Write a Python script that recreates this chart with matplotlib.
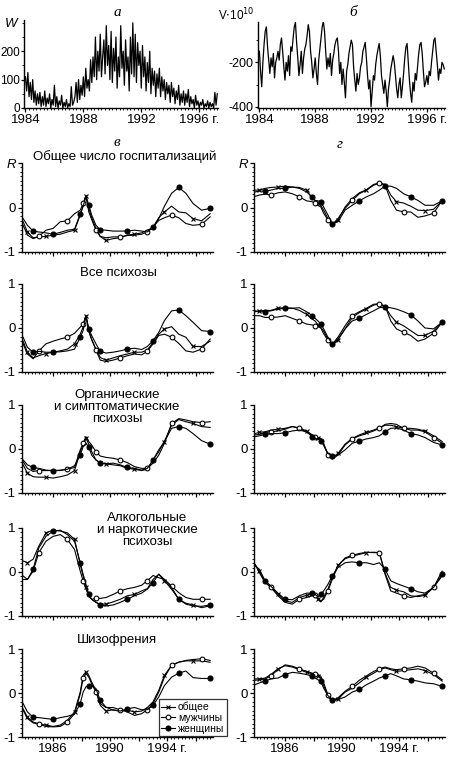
import matplotlib
matplotlib.use("Agg")
import matplotlib.pyplot as plt
from matplotlib.ticker import MultipleLocator
from matplotlib.lines import Line2D
import numpy as np

plt.rcParams['font.family'] = ['Liberation Sans', 'DejaVu Sans']
plt.rcParams['font.size'] = 9.5
plt.rcParams['axes.unicode_minus'] = False

# ---- top panels: monthly values, from Jan 1984 ----
w_monthly = [110, 60, 125, 40, 90, 30, 100, 20, 60, 10, 50, 15,
             55, 5, 40, 10, 60, 5, 35, 15, 50, 0, 30, 10,
             80, 5, 40, 0, 25, 10, 45, 0, 20, 5, 30, 0,
             15, 5, 75, 10, 20, 40, 90, 20, 100, 30, 80, 45,
             110, 40, 140, 70, 100, 60, 170, 90, 180, 110, 250, 100,
             200, 130, 260, 110, 180, 240, 120, 290, 150, 220, 100, 270,
             90, 210, 130, 250, 70, 180, 110, 290, 140, 200, 80, 240,
             130, 180, 60, 250, 120, 300, 110, 260, 90, 230, 150, 200,
             70, 220, 110, 180, 60, 160, 90, 200, 50, 140, 80, 130,
             40, 120, 70, 140, 40, 110, 60, 100, 30, 90, 50, 80,
             20, 90, 40, 70, 15, 60, 30, 80, 10, 50, 20, 60,
             10, 50, 20, 65, 5, 40, 15, 30, 0, 45, 10, 25,
             0, 20, 10, 30, 0, 15, 5, 25, 0, 20, 5, 15,
             0, 55, 10, 50]

v_monthly = [-150, -240, -310, -200, -120, -60, -40, -130, -190, -250, -180, -220,
             -160, -270, -200, -180, -150, -190, -120, -90, -150, -220, -280, -200,
             -240, -170, -260, -130, -150, -90, -40, -20, -110, -180, -260, -210,
             -150, -250, -180, -140, -120, -80, -30, -60, -150, -200, -270, -230,
             -180, -250, -300, -190, -140, -90, -40, -15, -60, -150, -230, -180,
             -220, -160, -260, -190, -160, -120, -100, -90, -150, -250, -200, -300,
             -230, -290, -360, -240, -210, -160, -130, -100, -120, -220, -280, -330,
             -250, -300, -270, -220, -200, -150, -130, -110, -180, -260, -320, -280,
             -400, -330, -260, -280, -210, -170, -140, -115, -170, -260, -300, -340,
             -280, -330, -400, -320, -280, -230, -200, -170, -200, -260, -320, -360,
             -300, -270, -360, -310, -250, -180, -130, -115, -200, -280, -340, -380,
             -290, -330, -250, -280, -220, -160, -120, -110, -160, -240, -310, -290,
             -260, -300, -240, -260, -200, -150, -100, -90, -150, -210, -280, -230,
             -250, -200, -210, -230]

# ---- correlation panels ----
years = [1983.9, 1984.2, 1984.6, 1985.0, 1985.5, 1986.0, 1986.5, 1987.0, 1987.5, 1987.9,
         1988.1, 1988.3, 1988.5, 1988.7, 1989.0, 1989.3, 1989.7, 1990.2, 1990.7, 1991.2,
         1991.7, 1992.2, 1992.6, 1993.0, 1993.4, 1993.8, 1994.3, 1994.8, 1995.3, 1995.8,
         1996.4, 1997.0]

row_titles = ["Общее число госпитализаций", "Все психозы",
              "Органические\nи симптоматические\nпсихозы",
              "Алкогольные\nи наркотические\nпсихозы", "Шизофрения"]
legend_labels = ["общее", "мужчины", "женщины"]

# column "в"
hosp_total_v = [-0.32, -0.55, -0.68, -0.66, -0.65, -0.62, -0.6, -0.55, -0.51, -0.17, 0.05, 0.26, -0.02, -0.23, -0.47, -0.65, -0.74, -0.7, -0.68, -0.62, -0.6, -0.57, -0.51, -0.45, -0.23, -0.1, 0.03, -0.1, -0.12, -0.25, -0.3, -0.14]
hosp_men_v = [-0.4, -0.62, -0.7, -0.65, -0.51, -0.47, -0.32, -0.3, -0.14, -0.06, 0.09, 0.26, -0.1, -0.27, -0.51, -0.65, -0.68, -0.66, -0.66, -0.63, -0.62, -0.6, -0.55, -0.44, -0.29, -0.23, -0.17, -0.23, -0.36, -0.4, -0.38, -0.21]
hosp_women_v = [-0.25, -0.4, -0.53, -0.55, -0.57, -0.6, -0.56, -0.51, -0.49, -0.14, 0.02, 0.26, 0.05, -0.17, -0.4, -0.5, -0.51, -0.53, -0.53, -0.53, -0.51, -0.53, -0.55, -0.44, -0.25, 0.03, 0.32, 0.45, 0.32, 0.09, -0.06, -0.02]

allpsy_total_v = [-0.3, -0.55, -0.68, -0.63, -0.58, -0.55, -0.52, -0.48, -0.36, -0.14, 0.02, 0.28, -0.08, -0.27, -0.48, -0.67, -0.73, -0.68, -0.63, -0.59, -0.55, -0.55, -0.5, -0.33, -0.14, -0.02, 0.03, -0.14, -0.21, -0.42, -0.42, -0.3]
allpsy_men_v = [-0.36, -0.59, -0.7, -0.52, -0.36, -0.3, -0.25, -0.21, -0.12, 0.02, 0.09, 0.28, -0.06, -0.25, -0.5, -0.73, -0.76, -0.73, -0.68, -0.63, -0.59, -0.61, -0.53, -0.36, -0.17, -0.14, -0.21, -0.35, -0.52, -0.55, -0.48, -0.25]
allpsy_women_v = [-0.21, -0.44, -0.55, -0.53, -0.55, -0.55, -0.54, -0.52, -0.48, -0.21, -0.06, 0.28, -0.02, -0.17, -0.36, -0.53, -0.57, -0.55, -0.52, -0.48, -0.46, -0.49, -0.42, -0.29, -0.1, 0.17, 0.39, 0.41, 0.28, 0.13, -0.06, -0.08]

organic_total_v = [-0.36, -0.55, -0.63, -0.64, -0.64, -0.66, -0.63, -0.59, -0.49, -0.06, 0.09, 0.24, 0.11, -0.06, -0.25, -0.32, -0.34, -0.36, -0.38, -0.44, -0.46, -0.49, -0.46, -0.25, -0.06, 0.17, 0.54, 0.67, 0.62, 0.58, 0.51, 0.49]
organic_men_v = [-0.29, -0.44, -0.51, -0.49, -0.49, -0.49, -0.48, -0.46, -0.42, -0.02, 0.13, 0.28, 0.17, 0.09, -0.06, -0.16, -0.19, -0.21, -0.25, -0.31, -0.4, -0.44, -0.44, -0.32, -0.14, 0.13, 0.58, 0.69, 0.66, 0.62, 0.6, 0.62]
organic_women_v = [-0.25, -0.36, -0.42, -0.44, -0.48, -0.49, -0.49, -0.46, -0.38, -0.14, 0.05, 0.13, 0.05, -0.14, -0.25, -0.31, -0.34, -0.32, -0.36, -0.42, -0.44, -0.48, -0.44, -0.25, -0.02, 0.17, 0.47, 0.51, 0.47, 0.35, 0.19, 0.11]

alco_total_v = [0.25, 0.21, 0.29, 0.59, 0.89, 0.95, 0.93, 0.89, 0.74, 0.17, -0.09, -0.33, -0.54, -0.62, -0.69, -0.73, -0.73, -0.68, -0.62, -0.54, -0.51, -0.43, -0.38, -0.17, -0.05, -0.2, -0.39, -0.62, -0.71, -0.75, -0.81, -0.77]
alco_men_v = [-0.09, -0.17, 0.02, 0.44, 0.7, 0.81, 0.85, 0.74, 0.51, 0.02, -0.2, -0.39, -0.54, -0.62, -0.6, -0.6, -0.58, -0.51, -0.43, -0.38, -0.35, -0.3, -0.2, -0.08, -0.13, -0.17, -0.32, -0.47, -0.58, -0.62, -0.62, -0.62]
alco_women_v = [-0.17, -0.17, 0.06, 0.55, 0.81, 0.93, 0.95, 0.85, 0.7, 0.21, -0.05, -0.28, -0.51, -0.62, -0.69, -0.75, -0.77, -0.75, -0.69, -0.62, -0.54, -0.48, -0.39, -0.24, -0.05, -0.17, -0.35, -0.62, -0.73, -0.77, -0.78, -0.75]

schizo_total_v = [-0.36, -0.55, -0.66, -0.7, -0.73, -0.76, -0.73, -0.62, -0.43, 0.02, 0.4, 0.48, 0.4, 0.25, 0.06, -0.28, -0.41, -0.38, -0.41, -0.39, -0.43, -0.41, -0.33, -0.2, 0.06, 0.4, 0.63, 0.7, 0.73, 0.73, 0.73, 0.7]
schizo_men_v = [-0.39, -0.58, -0.68, -0.71, -0.76, -0.77, -0.76, -0.66, -0.47, -0.02, 0.33, 0.44, 0.36, 0.21, 0.02, -0.24, -0.33, -0.33, -0.38, -0.43, -0.51, -0.47, -0.38, -0.24, 0.02, 0.36, 0.63, 0.7, 0.74, 0.76, 0.78, 0.74]
schizo_women_v = [-0.24, -0.43, -0.55, -0.56, -0.58, -0.6, -0.56, -0.53, -0.48, -0.24, 0.02, 0.14, 0.17, 0.17, 0.1, -0.17, -0.32, -0.39, -0.41, -0.36, -0.33, -0.38, -0.38, -0.28, -0.09, 0.17, 0.36, 0.45, 0.5, 0.35, 0.33, 0.33]

# column "г"
hosp_total_g = [0.39, 0.39, 0.43, 0.45, 0.46, 0.48, 0.46, 0.45, 0.39, 0.2, 0.16, 0.1, 0.05, -0.06, -0.25, -0.4, -0.28, 0.01, 0.2, 0.33, 0.4, 0.52, 0.55, 0.52, 0.28, 0.13, 0.1, 0.03, -0.06, -0.07, -0.04, 0.15]
hosp_men_g = [0.25, 0.28, 0.3, 0.28, 0.33, 0.35, 0.31, 0.24, 0.15, 0.13, 0.09, 0.05, 0.01, -0.13, -0.28, -0.38, -0.25, -0.02, 0.16, 0.31, 0.39, 0.5, 0.55, 0.5, 0.16, -0.06, -0.1, -0.1, -0.22, -0.19, -0.13, 0.16]
hosp_women_g = [0.35, 0.37, 0.37, 0.39, 0.43, 0.43, 0.46, 0.43, 0.35, 0.24, 0.16, 0.15, 0.13, 0.01, -0.17, -0.36, -0.32, -0.06, 0.05, 0.15, 0.24, 0.31, 0.39, 0.48, 0.48, 0.43, 0.31, 0.24, 0.16, 0.05, 0.05, 0.15]

allpsy_total_g = [0.37, 0.39, 0.4, 0.4, 0.45, 0.46, 0.45, 0.4, 0.31, 0.2, 0.16, 0.07, 0.01, -0.07, -0.25, -0.4, -0.27, -0.02, 0.24, 0.35, 0.43, 0.52, 0.55, 0.48, 0.28, 0.13, 0.05, -0.06, -0.17, -0.17, -0.07, 0.13]
allpsy_men_g = [0.28, 0.28, 0.24, 0.24, 0.25, 0.28, 0.22, 0.16, 0.09, 0.07, 0.05, 0.03, 0.0, -0.13, -0.28, -0.37, -0.21, 0.05, 0.28, 0.37, 0.45, 0.54, 0.55, 0.5, 0.16, -0.02, -0.1, -0.17, -0.3, -0.25, -0.12, 0.13]
allpsy_women_g = [0.39, 0.37, 0.37, 0.39, 0.43, 0.45, 0.45, 0.46, 0.37, 0.28, 0.22, 0.16, 0.09, -0.02, -0.21, -0.37, -0.25, -0.02, 0.16, 0.22, 0.31, 0.39, 0.46, 0.48, 0.46, 0.43, 0.37, 0.3, 0.16, 0.0, -0.02, 0.13]

organic_total_g = [0.35, 0.38, 0.39, 0.43, 0.45, 0.47, 0.51, 0.48, 0.41, 0.32, 0.28, 0.26, 0.23, 0.09, -0.12, -0.2, -0.1, 0.11, 0.24, 0.32, 0.38, 0.43, 0.48, 0.54, 0.54, 0.51, 0.47, 0.47, 0.45, 0.41, 0.3, 0.17]
organic_men_g = [0.32, 0.33, 0.38, 0.39, 0.41, 0.45, 0.51, 0.47, 0.38, 0.32, 0.28, 0.26, 0.24, 0.13, -0.14, -0.23, -0.14, 0.09, 0.23, 0.3, 0.35, 0.41, 0.47, 0.56, 0.58, 0.56, 0.47, 0.43, 0.43, 0.39, 0.26, 0.13]
organic_women_g = [0.28, 0.3, 0.33, 0.35, 0.35, 0.37, 0.41, 0.43, 0.39, 0.28, 0.24, 0.23, 0.18, 0.09, -0.1, -0.17, -0.14, -0.02, 0.13, 0.18, 0.23, 0.26, 0.3, 0.39, 0.47, 0.48, 0.43, 0.35, 0.32, 0.26, 0.15, 0.09]

alco_total_g = [0.17, 0.02, -0.23, -0.33, -0.51, -0.66, -0.69, -0.58, -0.53, -0.51, -0.53, -0.62, -0.68, -0.58, -0.39, -0.13, 0.15, 0.3, 0.36, 0.4, 0.44, 0.45, 0.44, -0.02, -0.35, -0.41, -0.45, -0.54, -0.56, -0.53, -0.35, 0.02]
alco_men_g = [0.17, -0.02, -0.24, -0.35, -0.54, -0.69, -0.73, -0.62, -0.58, -0.54, -0.53, -0.58, -0.66, -0.62, -0.43, -0.17, 0.14, 0.32, 0.38, 0.42, 0.45, 0.44, 0.44, -0.05, -0.43, -0.48, -0.54, -0.58, -0.54, -0.51, -0.35, -0.09]
alco_women_g = [0.14, 0.06, -0.2, -0.32, -0.48, -0.62, -0.63, -0.54, -0.48, -0.48, -0.51, -0.56, -0.51, -0.43, -0.28, -0.09, 0.1, 0.21, 0.23, 0.21, 0.21, 0.17, 0.21, 0.06, -0.2, -0.26, -0.32, -0.38, -0.45, -0.48, -0.35, -0.05]

schizo_total_g = [0.32, 0.32, 0.34, 0.42, 0.55, 0.62, 0.59, 0.53, 0.47, 0.44, 0.42, 0.39, 0.34, 0.17, -0.08, -0.19, -0.14, 0.02, 0.11, 0.23, 0.36, 0.45, 0.53, 0.57, 0.53, 0.49, 0.51, 0.53, 0.55, 0.51, 0.42, 0.27]
schizo_men_g = [0.29, 0.3, 0.32, 0.39, 0.53, 0.64, 0.61, 0.55, 0.49, 0.45, 0.44, 0.42, 0.38, 0.23, -0.04, -0.17, -0.11, 0.04, 0.15, 0.29, 0.39, 0.49, 0.55, 0.59, 0.55, 0.53, 0.55, 0.57, 0.61, 0.57, 0.45, 0.3]
schizo_women_g = [0.19, 0.23, 0.27, 0.32, 0.34, 0.42, 0.47, 0.45, 0.42, 0.38, 0.34, 0.3, 0.27, 0.11, -0.06, -0.15, -0.15, -0.09, 0.02, 0.08, 0.19, 0.27, 0.34, 0.39, 0.44, 0.39, 0.32, 0.3, 0.27, 0.23, 0.21, 0.15]

rows_v = [(hosp_total_v, hosp_men_v, hosp_women_v),
          (allpsy_total_v, allpsy_men_v, allpsy_women_v),
          (organic_total_v, organic_men_v, organic_women_v),
          (alco_total_v, alco_men_v, alco_women_v),
          (schizo_total_v, schizo_men_v, schizo_women_v)]
rows_g = [(hosp_total_g, hosp_men_g, hosp_women_g),
          (allpsy_total_g, allpsy_men_g, allpsy_women_g),
          (organic_total_g, organic_men_g, organic_women_g),
          (alco_total_g, alco_men_g, alco_women_g),
          (schizo_total_g, schizo_men_g, schizo_women_g)]

W, H = 450.0, 774.0


def box(l, t, r, b):
    return [l / W, 1 - b / H, (r - l) / W, (b - t) / H]


def ftext(px, py, s, **kw):
    fig.text(px / W, 1 - py / H, s, **kw)


def style_axes(ax):
    for s in ("top", "right"):
        ax.spines[s].set_visible(False)
    for s in ("left", "bottom"):
        ax.spines[s].set_linewidth(1.0)
    ax.tick_params(which="major", length=3, width=0.9, labelsize=9.5, pad=1.5)
    ax.tick_params(which="minor", length=1.6, width=0.6)


fig = plt.figure(figsize=(4.5, 7.74), dpi=100)
letter_kw = dict(family="Liberation Serif", style="italic", fontsize=11, ha="center", va="center")

# panel a
ax = fig.add_axes(box(24, 20, 218, 108))
t = 1984 + np.arange(len(w_monthly)) / 12.0
ax.plot(t, w_monthly, color="k", lw=0.9)
ax.set_xlim(1983.9, 1997.3)
ax.set_ylim(0, 310)
ax.set_yticks([0, 100, 200])
ax.yaxis.set_minor_locator(MultipleLocator(50))
ax.set_xticks([1984, 1988, 1992, 1996])
ax.set_xticklabels(["1984", "1988", "1992", "1996 г."])
ax.xaxis.set_minor_locator(MultipleLocator(0.25))
style_axes(ax)
ax.tick_params(axis="y", which="major", labelsize=8.5, length=2, pad=1)
ax.text(-0.035, 0.95, "W", transform=ax.transAxes, ha="right", va="center", style="italic", fontsize=9.5)
ftext(117, 12, "а", **letter_kw)

# panel б
ax = fig.add_axes(box(258, 22, 445, 108))
t = 1984 + np.arange(len(v_monthly)) / 12.0
ax.plot(t, v_monthly, color="k", lw=0.9)
ax.set_xlim(1983.9, 1997.3)
ax.set_ylim(-406, -18)
ax.set_yticks([-400, -200])
ax.yaxis.set_minor_locator(MultipleLocator(100))
ax.set_xticks([1984, 1988, 1992, 1996])
ax.set_xticklabels(["1984", "1988", "1992", "1996 г."])
ax.xaxis.set_minor_locator(MultipleLocator(0.25))
style_axes(ax)
ax.tick_params(axis="y", which="major", labelsize=9, length=2, pad=1)
ax.text(-0.02, 1.08, r"V$\cdot$10$^{10}$", transform=ax.transAxes, ha="right", va="center", fontsize=8.5)
ftext(353, 13, "б", **letter_kw)

ftext(117, 142, "в", **letter_kw)
ftext(340, 145, "г", **letter_kw)

row_px = [(163, 252), (284, 372), (405, 493), (528, 616), (649, 737)]
col_px = [(22, 213), (254, 445)]
marker_idx = [[1, 4, 8, 11, 16, 20, 25, 29],
              [3, 7, 10, 14, 18, 22, 26, 30],
              [2, 5, 9, 12, 15, 19, 23, 27, 31]]
styles = [dict(marker="x", ms=3.0, mew=0.8, mfc="k"),
          dict(marker="o", ms=3.4, mew=0.8, mfc="white"),
          dict(marker="o", ms=3.6, mew=0.8, mfc="k")]

axes_grid = []
for r, (top, bot) in enumerate(row_px):
    for c, (left, right) in enumerate(col_px):
        ax = fig.add_axes(box(left, top, right, bot))
        series = rows_v[r] if c == 0 else rows_g[r]
        for k, vals in enumerate(series):
            ax.plot(years, vals, color="k", lw=0.8, markevery=marker_idx[k],
                    mec="k", **styles[k])
        ax.set_xlim(1983.82, 1997.2)
        ax.set_ylim(-1, 1)
        ax.set_yticks([-1, 0, 1])
        ax.set_yticklabels(["-1", "0", "R" if r == 0 else "1"])
        if r == 0:
            ax.get_yticklabels()[2].set_style("italic")
        ax.yaxis.set_minor_locator(MultipleLocator(0.1))
        ax.set_xticks([1986, 1988, 1990, 1992, 1994, 1996])
        ax.xaxis.set_minor_locator(MultipleLocator(0.25))
        style_axes(ax)
        if r == len(row_px) - 1:
            ax.set_xticklabels(["1986", "", "1990", "", "1994 г.", ""])
        else:
            ax.tick_params(labelbottom=False)
        axes_grid.append(ax)

# row titles
ftext(125, 157, row_titles[0], ha="center", va="center")
ftext(118, 273, row_titles[1], ha="center", va="center")
ftext(117, 407, row_titles[2], ha="center", va="center", linespacing=0.95)
ftext(147, 530, row_titles[3], ha="center", va="center", linespacing=0.95)
ftext(117, 640, row_titles[4], ha="center", va="center")

# legend
handles = [Line2D([], [], color="k", lw=0.8, mec="k", **st) for st in styles]
leg = axes_grid[8].legend(handles, legend_labels, loc="lower left", bbox_to_anchor=(0.715, 0.01),
                          fontsize=7.5, frameon=True, fancybox=False, handlelength=1.3,
                          handletextpad=0.3, borderpad=0.25, labelspacing=0.05, borderaxespad=0)
leg.get_frame().set_edgecolor("k")
leg.get_frame().set_linewidth(0.9)

fig.savefig("out.png", dpi=100)
